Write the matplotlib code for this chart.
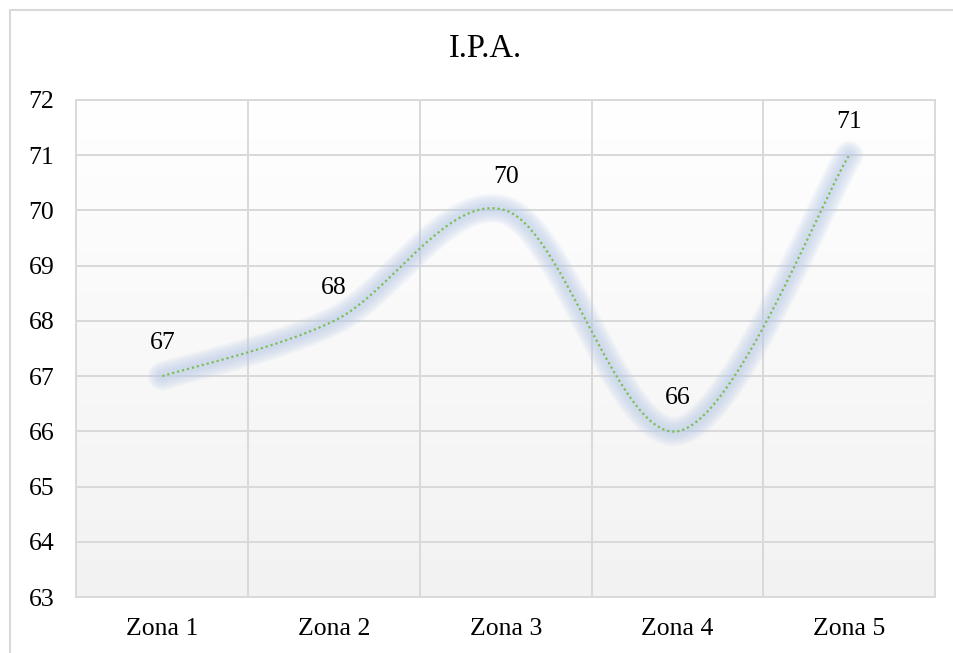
import numpy as np
import matplotlib
matplotlib.use("Agg")
import matplotlib.pyplot as plt
from matplotlib.patches import Rectangle

# data
zones = ["Zona 1", "Zona 2", "Zona 3", "Zona 4", "Zona 5"]
ipa = [67, 68, 70, 66, 71]
y_ticks = list(range(63, 73))
title = "I.P.A."

GRID = "#d9d9d9"
plt.rcParams["font.family"] = ["Liberation Serif", "DejaVu Serif"]


def smooth(xs, ys, n=60):
  # excel-like smoothed line: catmull-rom as cubic bezier segments
  P = np.column_stack([xs, ys]).astype(float)
  P = np.vstack([P[0], P, P[-1]])
  out = []
  for i in range(1, len(P) - 2):
    p0, p1 = P[i], P[i + 1]
    c1 = p0 + (P[i + 1] - P[i - 1]) / 6.0
    c2 = p1 - (P[i + 2] - P[i]) / 6.0
    t = np.linspace(0, 1, n)[:, None]
    seg = ((1 - t) ** 3) * p0 + 3 * ((1 - t) ** 2) * t * c1 \
        + 3 * (1 - t) * t ** 2 * c2 + t ** 3 * p1
    out.append(seg if i == 1 else seg[1:])
  c = np.vstack(out)
  return c[:, 0], c[:, 1]


fig = plt.figure(figsize=(9.54, 6.53), dpi=100)
ax = fig.add_axes([76.5 / 954, 1 - 597 / 653, (935 - 76.5) / 954, (597 - 100) / 653])

x = np.arange(len(zones))
ax.set_xlim(-0.5, len(zones) - 0.5)
ax.set_ylim(63, 72)

# background gradient of the plot area
grad = np.linspace(1.0, 0.0, 256)[:, None]
ax.imshow(grad, extent=[0, 1, 0, 1], transform=ax.transAxes, aspect="auto",
          cmap=matplotlib.colors.LinearSegmentedColormap.from_list(
            "bg", ["#f2f2f2", "#ffffff"]), zorder=0)

# grid
for yy in y_ticks:
  ax.axhline(yy, color=GRID, lw=1.4, zorder=1)
for xx in np.arange(0.5, len(zones) - 0.5):
  ax.axvline(xx, color=GRID, lw=1.4, zorder=1)

sx, sy = smooth(x, ipa)
# soft blue glow
for lw in np.linspace(21, 5, 9):
  ax.plot(sx, sy, color="#bccde9", lw=lw, alpha=0.10,
          solid_capstyle="round", zorder=2)
ax.plot(sx, sy, color="#7dbf57", lw=1.6, ls=(0, (1, 1.3)), zorder=3)

for xi, v in zip(x, ipa):
  ax.annotate(str(v), (xi, v), xytext=(0, 24), textcoords="offset points",
              ha="center", va="center", fontsize=18.5, color="black")

ax.set_xticks(x)
ax.set_xticklabels(zones)
ax.set_yticks(y_ticks)
ax.tick_params(axis="both", length=0, labelsize=18.5, colors="black")
ax.tick_params(axis="y", pad=16)
ax.tick_params(axis="x", pad=15)
for s in ax.spines.values():
  s.set_color(GRID)
  s.set_linewidth(1.4)

fig.text(485 / 954, 1 - 49 / 653, title, ha="center", va="center",
         fontsize=23.5, color="black")

# chart area border (cropped on the right and bottom)
fig.patches.append(Rectangle((10 / 954, -0.2), 1.5, 1.2 - 10 / 653,
                             transform=fig.transFigure, fill=False,
                             edgecolor=GRID, lw=1.5))

fig.savefig("out.png", dpi=100)
